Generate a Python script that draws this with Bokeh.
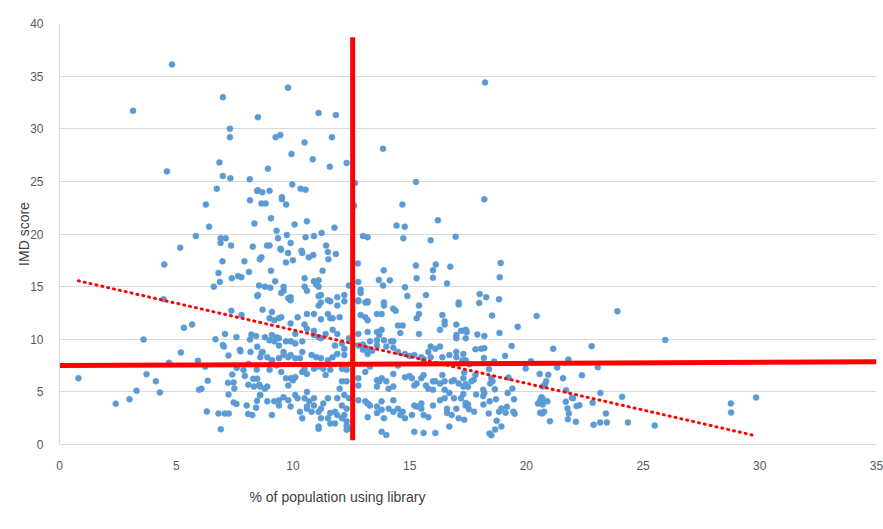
from bokeh.plotting import figure
from bokeh.models import Range1d, Title, FixedTicker
from bokeh.embed import file_html
from bokeh.resources import INLINE

# ---- data: (% of population using library, IMD score) ----
pts_top = [(4.82,36.1),(7.0,33.0),(3.15,31.7),(8.5,31.1),(7.3,30.0),(7.3,29.2),(6.85,26.8),
    (9.79,33.9),(11.1,31.5),(11.84,31.3),(9.26,29.2),(9.46,29.4),(10.5,28.7),(11.67,29.2),
    (13.86,28.1),(9.94,27.6),(10.85,27.1),(12.3,26.75),(18.23,34.4)]

pts_left_high = [(4.6,25.95),(7.0,25.5),(7.32,25.3),(8.15,25.2),(6.74,24.3),(8.46,24.1),(8.16,23.2),
    (6.27,22.8),(8.35,21.0),(6.41,20.7),(5.84,19.8),(6.9,19.6),(7.12,19.6),(6.9,19.15),(5.17,18.7),
    (7.35,18.9),(8.28,18.8),(7.92,17.4),(6.98,17.4),(4.49,17.1),(6.81,16.3),(8.12,16.4),(7.65,16.0),
    (7.79,15.9),(7.38,15.8),(6.87,15.45),(6.61,15.0),(8.47,14.1),(4.46,13.8)]

pts_mid_high = [(11.58,26.4),(8.93,26.2),(12.66,24.85),(15.27,24.95),(9.97,24.7),(10.33,24.3),
    (10.54,24.2),(8.5,24.15),(8.69,23.96),(9.0,24.1),(9.53,23.5),(9.53,23.3),(9.71,22.8),(8.65,22.9),
    (8.83,22.9),(12.62,22.7),(14.69,22.8),(9.06,21.5),(10.6,21.2),(16.21,21.3),(10.07,20.9),
    (11.78,20.6),(14.44,20.8),(14.79,20.7),(9.3,20.3),(11.23,20.1),(9.74,19.9),(10.9,19.8),
    (10.54,19.7),(9.36,19.6),(13.0,19.8),(13.2,19.7),(14.73,19.6),(15.9,19.4),(16.97,19.75),
    (9.9,19.15),(11.42,18.9),(8.89,18.9),(9.0,18.9),(9.46,18.6),(9.49,18.5),(10.37,18.4),
    (10.4,18.2),(9.79,18.2),(11.5,18.3),(11.84,18.1),(10.87,18.0),(10.68,17.8),(8.65,17.8),
    (8.58,17.6),(11.52,17.6),(10.0,17.5),(9.7,17.3),(12.78,17.2),(9.06,16.5),(11.27,16.5),
    (13.89,16.55),(15.27,17.0),(16.0,16.55),(16.12,17.1),(16.74,16.9),(9.24,15.5),(10.5,15.8),
    (10.9,15.5),(11.1,15.6),(11.0,15.4),(12.8,15.45),(13.68,15.64),(14.15,15.6),(15.3,15.8),
    (16.0,15.85),(16.6,15.3),(8.55,15.1),(8.8,15.0),(9.03,14.9),(9.6,15.0),(9.6,14.6),(9.5,14.4),
    (10.5,15.0),(10.6,14.6),(11.1,15.0),(11.0,15.2),(12.4,15.1),(12.9,14.7),(12.9,14.4),
    (13.86,15.1),(14.8,14.95),(14.9,14.1),(15.7,14.2),(8.5,14.2),(9.9,14.0),(9.8,13.9),(11.1,14.1),
    (11.2,14.2),(11.5,13.7),(11.9,14.0),(12.2,14.2),(12.8,13.7),(13.2,13.6),(13.9,13.5),(17.1,13.5)]

pts_right_high = [(18.2,23.3),(18.9,17.25),(18.86,15.9),(18.0,14.3),(18.28,14.0),(18.83,13.8),(17.98,13.45)]

pts_left_low = [(7.36,12.7),(7.8,12.3),(5.68,11.4),(5.33,11.1),(7.09,10.5),(7.58,10.2),(6.68,10.0),
    (8.22,10.45),(8.42,10.3),(8.16,9.97),(3.6,9.97),(7.04,9.3),(7.0,9.45),(7.73,9.0),(7.75,8.85),
    (8.47,9.28),(8.18,8.8),(8.66,8.74),(5.2,8.74),(7.24,8.45),(5.93,7.95),(4.69,7.76),(8.1,7.66),
    (6.24,7.38),(7.59,7.28),(7.88,7.09),(8.45,7.12),(7.4,6.65),(3.73,6.68),(7.94,6.52),(0.81,6.3),
    (8.3,6.24),(8.47,6.24),(4.13,6.0),(6.35,6.05),(7.22,5.86),(7.46,5.9),(8.09,5.67),(8.33,5.5),
    (8.56,5.67),(7.49,5.32),(6.08,5.3),(5.98,5.2),(4.3,4.94),(3.3,5.1),(7.24,4.75),(8.59,4.68),
    (3.0,4.3),(8.46,4.15),(7.46,4.0),(7.58,3.85),(2.41,3.87),(8.02,3.7),(8.42,3.5),(6.31,3.13),
    (6.81,2.94),(7.08,2.94),(7.25,2.94),(8.08,2.9),(8.26,2.8),(6.91,1.45)]

pts_mid_low = [(9.9,13.7),(11.1,13.2),(11.2,13.5),(11.6,13.6),(11.9,13.2),(12.2,13.6),(12.8,13.6),
    (13.1,13.5),(13.2,13.5),(13.9,13.2),(14.3,12.9),(14.4,12.7),(15.4,13.2),(15.4,12.4),(17.1,13.3),
    (8.7,12.8),(9.4,12.0),(9.5,12.1),(10.2,12.1),(10.6,12.4),(10.9,12.4),(11.2,11.9),(11.5,12.4),
    (11.6,12.0),(11.7,12.0),(12.0,12.1),(12.9,12.3),(13.1,12.1),(13.2,11.8),(13.6,12.4),(13.8,12.4),
    (14.5,11.3),(14.7,11.3),(14.6,10.6),(15.3,12.0),(16.4,12.3),(16.5,11.7),(16.5,11.4),(17.0,11.4),
    (16.3,10.9),(17.2,10.8),(17.4,10.9),(9.1,12.6),(9.0,12.0),(9.2,11.8),(9.9,11.5),(10.1,10.5),
    (10.5,11.4),(10.6,11.0),(10.9,10.8),(10.9,10.4),(11.1,10.2),(11.2,10.1),(11.4,10.5),(11.7,10.9),
    (11.9,10.5),(11.8,9.4),(12.1,9.6),(12.4,10.1),(12.8,10.5),(13.2,10.7),(13.3,9.8),(13.6,9.9),
    (13.6,10.7),(13.7,10.4),(13.8,10.9),(13.9,9.9),(14.2,9.8),(14.3,9.8),(14.0,9.3),(14.3,9.2),
    (14.5,8.8),(13.6,9.4),(13.4,8.9),(13.2,9.1),(13.0,9.5),(13.0,9.0),(13.2,8.6),(12.8,9.4),
    (15.4,10.5),(15.9,9.3),(15.9,8.3),(15.8,8.8),(16.1,9.1),(16.3,9.3),(17.0,10.4),(17.0,10.1),
    (17.0,8.8),(17.4,10.1),(17.0,8.3),(14.8,8.6),(15.0,8.4),(15.2,8.5),(15.6,8.1),(15.5,8.3),
    (16.4,8.3),(16.7,8.5),(17.3,8.6),(17.4,8.0),(8.8,10.2),(9.0,9.9),(9.1,10.4),(9.2,9.8),
    (9.3,10.2),(9.4,10.1),(9.4,9.4),(9.7,9.8),(9.9,9.8),(10.4,9.8),(10.1,9.6),(9.6,8.8),(9.6,8.5),
    (9.8,8.3),(9.9,8.5),(10.1,8.2),(10.3,8.2),(10.4,8.8),(10.8,8.5),(11.0,8.3),(11.2,8.2),(11.5,8.0),
    (11.7,8.3),(11.9,8.6),(12.2,9.1),(12.2,8.5),(8.7,8.8),(8.6,8.3),(8.9,8.3),(9.1,8.0),(9.4,8.2),
    (9.1,7.9),(9.3,7.5),(9.0,7.1),(9.5,6.9),(9.7,6.3),(9.9,6.3),(10.0,6.1),(10.1,6.4),(10.4,6.9),
    (10.5,7.2),(10.6,6.7),(10.9,7.2),(11.1,7.4),(11.3,7.2),(11.4,6.6),(11.6,7.1),(12.1,7.2),
    (12.3,6.0),(12.3,7.1),(12.1,6.0),(12.8,6.3),(12.8,5.6),(13.1,6.9),(13.3,7.4),(13.6,6.1),
    (13.6,5.5),(13.7,6.0),(13.8,6.3),(14.0,6.0),(14.1,5.3),(14.3,5.5),(14.3,6.7),(14.5,7.5),
    (14.8,6.4),(15.0,6.5),(15.1,6.3),(15.2,5.6),(15.3,5.8),(15.5,6.3),(15.6,6.6),(15.7,5.6),
    (15.8,5.3),(16.0,6.0),(16.1,6.0),(16.3,5.8),(16.4,6.6),(16.5,6.0),(16.8,6.0),(16.9,6.1),
    (17.1,5.8),(17.3,5.5),(17.3,6.3),(8.6,5.5),(8.8,5.3),(8.9,5.5),(8.6,4.7),(8.9,4.1),(9.1,2.8),
    (9.2,4.1),(9.4,4.2),(9.4,3.7),(9.8,5.6),(9.9,3.6),(10.1,4.7),(10.2,4.4),(10.3,3.1),(10.4,2.5),
    (10.5,4.4),(10.6,5.0),(10.7,4.1),(10.9,4.4),(10.9,3.7),(11.1,3.1),(11.2,3.4),(11.3,3.9),
    (11.5,4.4),(11.6,3.0),(11.6,2.0),(11.9,4.4),(11.9,2.8),(11.8,3.1),(12.1,3.7),(12.2,2.8),
    (12.3,1.8),(12.3,2.2),(12.3,3.4),(12.2,4.7),(12.0,5.3),(12.4,4.4),(11.2,2.5),(11.1,1.7),
    (11.1,1.5),(10.8,3.1),(10.6,3.6),(12.8,4.2),(13.1,4.1),(13.2,3.9),(13.3,3.7),(13.2,2.6),
    (13.6,3.0),(13.6,3.6),(13.8,4.1),(13.8,3.3),(13.9,2.5),(13.8,1.2),(14.0,0.9),(14.1,3.4),
    (14.3,4.2),(14.3,3.1),(14.5,3.4),(14.6,2.8),(14.7,3.1),(14.8,2.5),(15.1,2.8),(15.2,3.7),
    (15.3,3.6),(15.5,3.4),(15.5,3.9),(15.2,1.2),(15.6,1.1),(15.6,2.8),(15.8,2.6),(16.0,3.7),
    (16.1,1.1),(16.3,4.2),(16.5,4.4),(16.6,3.4),(16.6,3.0),(16.7,1.7),(16.8,2.8),(16.9,4.4),
    (17.0,3.4),(17.1,2.5),(17.2,4.4),(17.3,4.8),(17.4,3.7),(10.6,3.4),(11.5,2.5),(11.8,2.0),
    (12.1,2.5),(12.3,1.4),(12.4,1.5),(9.6,4.5),(9.8,4.2),(16.0,5.2),(16.5,5.2),(16.7,4.9)]

pts_right_low = [(23.9,12.66),(18.53,12.25),(20.44,12.2),(19.63,11.18),(17.34,10.8),(17.45,10.7),
    (17.9,10.45),(18.2,10.3),(18.85,10.6),(25.95,9.94),(19.37,9.37),(17.82,9.05),(18.06,9.1),
    (18.2,9.15),(21.15,9.1),(22.8,9.34),(19.09,8.42),(18.18,8.23),(17.26,8.0),(18.62,7.88),
    (21.8,8.07),(20.2,7.91),(17.56,7.63),(23.06,7.34),(21.32,7.31),(19.97,7.22),(18.4,7.15),
    (17.34,6.84),(17.82,6.62),(20.57,6.71),(20.94,6.62),(22.38,6.58),(21.57,6.3),(18.5,6.3),
    (18.55,6.0),(18.45,5.8),(19.23,6.36),(17.75,6.15),(17.65,6.0),(17.4,5.73),(17.5,5.48),
    (20.85,6.0),(20.8,5.7),(20.7,5.5),(19.4,5.32),(18.65,5.25),(18.15,5.2),(18.2,4.9),(18.15,4.6),
    (17.85,4.75),(19.2,4.9),(21.7,5.16),(23.17,4.9),(24.1,4.53),(20.65,4.5),(20.6,4.2),(20.7,4.35),
    (22.0,4.4),(19.47,4.3),(18.7,4.3),(17.4,3.95),(17.5,3.8),(18.43,4.1),(18.16,3.8),(20.5,3.9),
    (20.7,3.8),(20.9,4.1),(21.69,4.06),(21.76,3.43),(21.95,4.44),(22.27,3.74),(22.15,3.65),
    (22.84,3.96),(19.17,3.58),(18.93,3.43),(18.83,3.11),(19.11,3.02),(19.44,3.11),(19.5,2.92),
    (17.54,3.36),(17.76,3.11),(18.39,2.95),(20.59,3.02),(20.68,2.95),(20.76,3.11),(21.82,2.95),
    (21.78,2.4),(23.41,2.95),(17.34,2.34),(18.73,2.25),(21.01,2.21),(22.12,2.15),(23.16,2.09),
    (23.45,2.09),(24.35,2.09),(22.88,1.87),(25.5,1.8),(18.93,1.71),(18.66,1.42),(18.42,1.04),
    (18.5,0.88),(28.76,3.9),(28.77,3.04),(29.84,4.46)]

# reference lines drawn on the chart
vline_x = [12.56, 12.56]
vline_y = [0.4, 38.7]
hline_x = [0.0, 35.0]
hline_y = [7.5, 7.87]
trend_x = [0.81, 29.7]
trend_y = [15.55, 0.89]

x_ticks = [0, 5, 10, 15, 20, 25, 30, 35]
y_ticks = [0, 5, 10, 15, 20, 25, 30, 35, 40]

all_pts = pts_top + pts_left_high + pts_mid_high + pts_right_high + pts_left_low + pts_mid_low + pts_right_low
xs = [p[0] for p in all_pts]
ys = [p[1] for p in all_pts]

FONT = "Liberation Sans"

p = figure(width=883, height=529, output_backend="svg", toolbar_location=None,
           x_range=Range1d(0, 35), y_range=Range1d(0, 40),
           min_border_left=59, min_border_right=7, min_border_top=23, min_border_bottom=85)
p.outline_line_color = None
p.background_fill_color = "white"
p.border_fill_color = "white"

p.xgrid.visible = False
p.ygrid.grid_line_color = "#d9d9d9"
p.ygrid.grid_line_width = 1

p.xaxis.ticker = FixedTicker(ticks=x_ticks)
p.yaxis.ticker = FixedTicker(ticks=y_ticks)
for ax in (p.xaxis[0], p.yaxis[0]):
    ax.axis_line_color = "#d9d9d9"
    ax.major_tick_line_color = None
    ax.minor_tick_line_color = None
    ax.major_label_text_font = FONT
    ax.major_label_text_font_size = "12px"
    ax.major_label_text_color = "#595959"
    ax.major_label_standoff = 10

p.yaxis.axis_label = "IMD score"
p.yaxis.axis_label_text_font = FONT
p.yaxis.axis_label_text_font_size = "14px"
p.yaxis.axis_label_text_font_style = "normal"
p.yaxis.axis_label_text_color = "#404040"
p.yaxis.axis_label_standoff = -5

p.scatter(xs, ys, size=6, fill_color="#5b9bd5", line_color="#5b9bd5", line_width=0.5)

p.line(trend_x, trend_y, line_color="#ff0000", line_width=3, line_dash="1 5", line_cap="round")
p.line(hline_x, hline_y, line_color="#ff0000", line_width=5)
p.line(vline_x, vline_y, line_color="#ff0000", line_width=5)

xtitle = Title(text="% of population using library", align="left", offset=190,
               text_font=FONT, text_font_size="14px", text_font_style="normal",
               text_color="#404040", standoff=29)
p.add_layout(xtitle, "below")

open("out.html", "w").write(file_html(p, INLINE))
